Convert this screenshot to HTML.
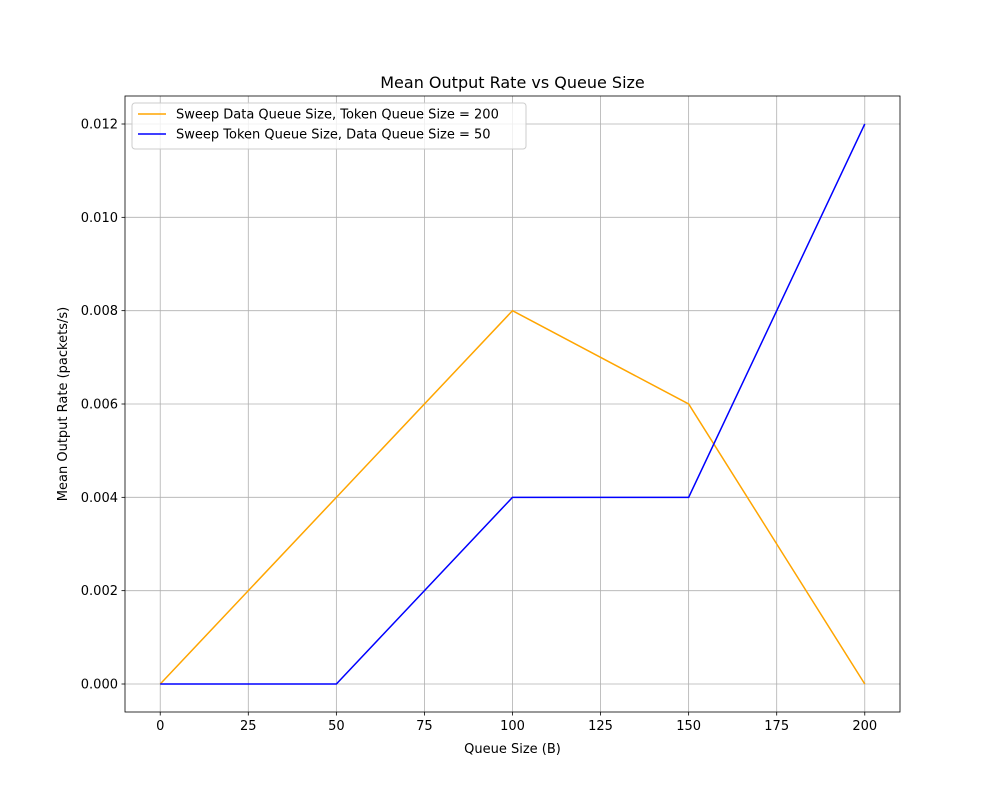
<!DOCTYPE html>
<html><head><meta charset="utf-8"><style>
body{margin:0;background:#fff;font-family:"Liberation Sans","DejaVu Sans",sans-serif}
</style></head><body>
<svg id="c" width="1000" height="800" xmlns="http://www.w3.org/2000/svg" font-family="DejaVu Sans, Liberation Sans, sans-serif"></svg>
<script>
const xValues=[0,50,100,150,200];
const dataQueueSeries=[0,0.004,0.008,0.006,0];
const tokenQueueSeries=[0,0,0.004,0.004,0.012];
const xTicks=[0,25,50,75,100,125,150,175,200];
const yTicks=[0,0.002,0.004,0.006,0.008,0.010,0.012];
const yTickLabels=["0.000","0.002","0.004","0.006","0.008","0.010","0.012"];
const L=125,R=900,T=96,B=712,xmin=-10,xmax=210,ymin=-0.0006,ymax=0.0126;
const sx=v=>L+(v-xmin)/(xmax-xmin)*(R-L);
const sy=v=>B-(v-ymin)/(ymax-ymin)*(B-T);
const svg=document.getElementById('c');const NS="http://www.w3.org/2000/svg";
function mk(t,a,txt){const e=document.createElementNS(NS,t);for(const k in a)e.setAttribute(k,a[k]);if(txt!==undefined)e.textContent=txt;svg.appendChild(e);return e;}
xTicks.forEach(v=>{const x=sx(v);
const g=mk('line',{x1:x,x2:x,y1:T,y2:B,stroke:'#b0b0b0','stroke-width':0.8});


mk('line',{x1:x,x2:x,y1:B,y2:B+3.5,stroke:'#000','stroke-width':0.8});
const t=mk('text',{x:x,y:B+18,'font-size':13,'text-anchor':'middle'},String(v));

});
yTicks.forEach((v,i)=>{const y=sy(v);
const g=mk('line',{x1:L,x2:R,y1:y,y2:y,stroke:'#b0b0b0','stroke-width':0.8});


mk('line',{x1:L-3.5,x2:L,y1:y,y2:y,stroke:'#000','stroke-width':0.8});
const t=mk('text',{x:L-7,y:y+4.5,'font-size':13,'text-anchor':'end'},yTickLabels[i]);

});
function line(vals,color,name){const p=mk('polyline',{points:xValues.map((x,i)=>sx(x)+','+sy(vals[i])).join(' '),fill:'none',stroke:color,'stroke-width':1.5});

}
line(dataQueueSeries,'orange','data-queue-line');
line(tokenQueueSeries,'blue','token-queue-line');
const fr=mk('rect',{x:L,y:T,width:R-L,height:B-T,fill:'none',stroke:'#000','stroke-width':0.8});


const ti=mk('text',{x:(L+R)/2,y:88,'font-size':16,'text-anchor':'middle'},'Mean Output Rate vs Queue Size');


const xl=mk('text',{x:(L+R)/2,y:753,'font-size':13,'text-anchor':'middle'},'Queue Size (B)');


const yl=mk('text',{x:67,y:(T+B)/2,'font-size':13,'text-anchor':'middle',transform:'rotate(-90 67 '+(T+B)/2+')'},'Mean Output Rate (packets/s)');


const lg=mk('rect',{x:132,y:103,width:394,height:46,rx:3,fill:'#fff','fill-opacity':0.8,stroke:'#ccc'});


[['orange','Sweep Data Queue Size, Token Queue Size = 200'],['blue','Sweep Token Queue Size, Data Queue Size = 50']].forEach((d,i)=>{const y=114+i*20;
mk('line',{x1:138,x2:166,y1:y,y2:y,stroke:d[0],'stroke-width':1.5});
const t=mk('text',{x:176,y:y+4.5,'font-size':13},d[1]);

});
</script>
</body></html>
